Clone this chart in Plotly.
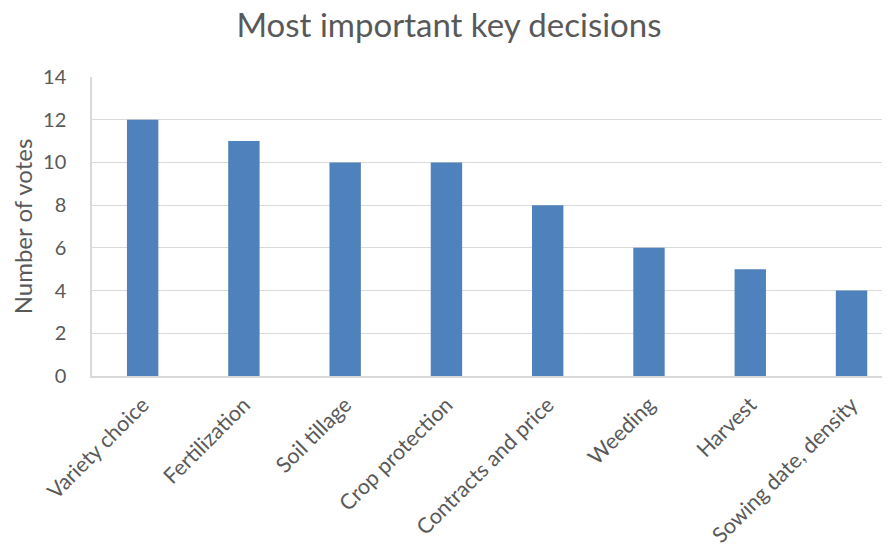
import plotly.graph_objects as go

categories = ["Variety choice", "Fertilization", "Soil tillage", "Crop protection",
              "Contracts and price", "Weeding", "Harvest", "Sowing date, density"]
votes = [12, 11, 10, 10, 8, 6, 5, 4]
y_ticks = [0, 2, 4, 6, 8, 10, 12, 14]

FONT = "Lato, Calibri, Carlito, sans-serif"
GRAY = "#595959"

W, H = 882, 541  # page body has an 8px margin

fig = go.Figure(go.Bar(x=categories, y=votes, marker=dict(color="#4F81BD", line=dict(width=0)),
                       width=0.31))

fig.update_layout(
    width=W, height=H,
    margin=dict(l=84, r=1, t=69, b=173, autoexpand=False),
    paper_bgcolor="white", plot_bgcolor="white",
    title=dict(text="Most important key decisions", x=0.5, xref="container", xanchor="center",
               y=1 - 17 / H, yref="container", yanchor="middle",
               font=dict(family=FONT, size=33, color=GRAY)),
    font=dict(family=FONT, color=GRAY),
    showlegend=False,
    bargap=0.69,
)
fig.update_xaxes(tickangle=-45, tickfont=dict(size=21.5, color=GRAY), automargin=False,
                 range=[-0.5, 7.37],
                 showline=True, linecolor="#D9D9D9", linewidth=1.5,
                 showgrid=False, ticks="", ticklabelstandoff=6)
fig.update_yaxes(range=[0, 14], tickvals=y_ticks, tickfont=dict(size=20, color=GRAY),
                 automargin=False,
                 showgrid=True, gridcolor="#D9D9D9", gridwidth=1.2,
                 showline=True, linecolor="#D9D9D9", linewidth=1.5, zeroline=False,
                 title=dict(text="Number of votes", font=dict(size=24, color=GRAY), standoff=12),
                 ticks="", ticklen=0, ticklabelstandoff=20)

fig.write_html("out.html")
